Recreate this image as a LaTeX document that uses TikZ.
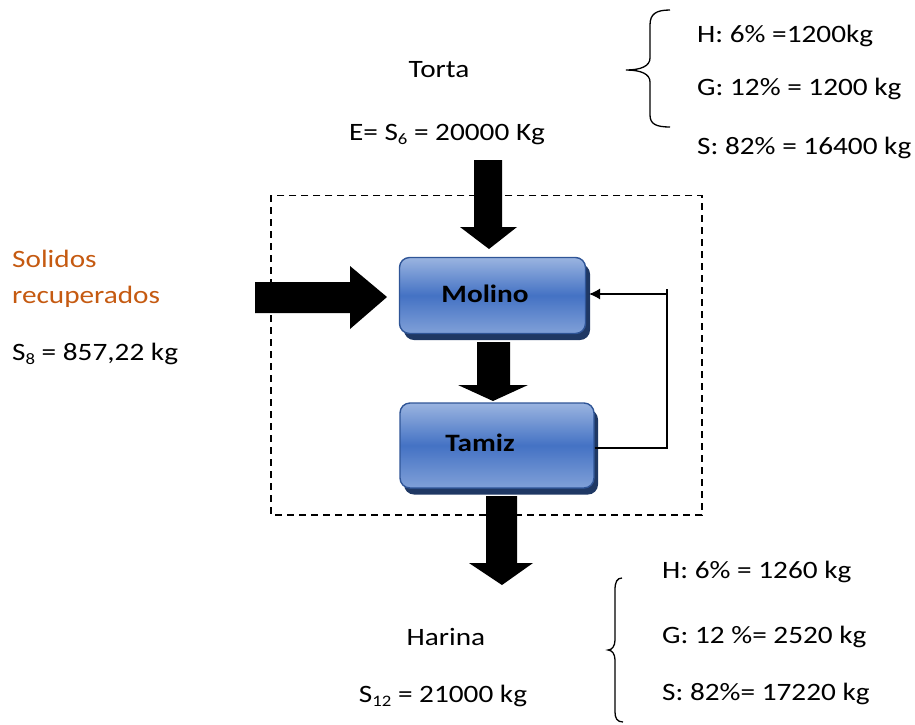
\documentclass[tikz,border=0pt]{standalone}
\usepackage{fontspec}
\setmainfont[FakeStretch=1.17]{Carlito}
\usetikzlibrary{calc,arrows.meta}
\definecolor{orangeT}{HTML}{C55A11}
\definecolor{boxlight}{HTML}{9AB4E0}
\definecolor{boxmid}{HTML}{4472C4}
\definecolor{boxedge}{HTML}{2F5597}
\definecolor{boxshadow}{HTML}{1F3864}
\newcommand{\sbs}[1]{\raisebox{-0.35ex}{\fontsize{16}{16}\selectfont #1}}
\tikzset{
  txt/.style={inner sep=0pt, font=\fontsize{25}{30}\selectfont},
  procbox/.style={rounded corners=10pt, draw=boxedge, line width=1.4pt,
    top color=boxlight, bottom color=boxlight!70!boxmid, middle color=boxmid,
    inner sep=0pt},
  shadowbox/.style={rounded corners=10pt, fill=boxshadow, draw=none, inner sep=0pt},
  blockarrow/.style={fill=black, draw=none},
  flowline/.style={line width=1.4pt, black},
  limit/.style={line width=1.6pt, dash pattern=on 7pt off 5pt}
}
\begin{document}
\begin{tikzpicture}[x=1pt,y=-1pt]
\useasboundingbox (0,0) rectangle (915,724);

% control volume
\node[draw=none, inner sep=0pt, minimum width=431, minimum height=319] (cv) at (486.5,355) {};
\draw[limit] (cv.north west) rectangle (cv.south east);

% shadows
\node[shadowbox, minimum width=186, minimum height=76] (molinoSh) at (497,302) {};
\node[shadowbox, minimum width=194, minimum height=85] (tamizSh) at (501,452) {};
% boxes
\node[procbox, minimum width=186, minimum height=76] (molino) at (492.5,295.5) {};
\node[procbox, minimum width=194, minimum height=85] (tamiz) at (497,445.5) {};
\node[txt, font=\fontsize{25}{30}\selectfont\bfseries] (molinoT) at (485,294) {Molino};
\node[txt, font=\fontsize{25}{30}\selectfont\bfseries] (tamizT) at (480,443) {Tamiz};

% block arrows
% top input
\coordinate (topTip) at (489,249);
\fill[blockarrow] (474,160) -- (502,160) -- (502,227) -- (517,227) -- (topTip) -- (460,227) -- (474,227) -- cycle;
% molino -> tamiz
\coordinate (midTip) at (493,401);
\fill[blockarrow] (477,342) -- (510,342) -- (510,385) -- (528,385) -- (midTip) -- (458,385) -- (477,385) -- cycle;
% bottom output
\coordinate (botTip) at (502,585);
\fill[blockarrow] (486,496) -- (517,496) -- (517,563) -- (533,563) -- (botTip) -- (469,563) -- (486,563) -- cycle;
% left input
\coordinate (leftTip) at (387,297);
\fill[blockarrow] (255,282) -- (350,282) -- (350,266) -- (leftTip) -- (350,329) -- (350,313) -- (255,313) -- cycle;

% recycle line
\coordinate (rTop) at (667,289);
\coordinate (rBot) at (667,449);
\coordinate (rTurn) at (667,294);
\coordinate (rTip) at (589,294);
\draw[flowline] (rTop) -- (rBot);
\draw[flowline] (tamiz.east |- 0,448) -- (667,448);
\draw[flowline, -{Latex[length=11pt,width=11pt]}] (rTurn) -- (rTip);

% texts top
\node[txt, anchor=base] (torta) at (439,77) {Torta};
\node[txt, anchor=base] (e6) at (447,140) {E= S\sbs{6} = 20000 Kg};
\node[txt, anchor=base west] (h1) at (697,42) {H: 6\% =1200kg};
\node[txt, anchor=base west] (g1) at (697,95) {G: 12\% = 1200 kg};
\node[txt, anchor=base west] (s1) at (697,154) {S: 82\% = 16400 kg};
\draw[line width=1.3pt] (670,10) .. controls (656,10) and (650,14) .. (650,25) -- (650,58)
  .. controls (650,66) and (641,70) .. (626,70)
  .. controls (641,70) and (650,74) .. (650,82) -- (650,115)
  .. controls (650,124) and (656,127) .. (670,127);

% left texts
\node[txt, anchor=base west, text=orangeT] (sol1) at (12,267) {Solidos};
\node[txt, anchor=base west, text=orangeT] (sol2) at (12,303) {recuperados};
\node[txt, anchor=base west] (s8) at (12,360) {S\sbs{8} = 857,22 kg};

% bottom texts
\node[txt, anchor=base] (harina) at (446,645) {Harina};
\node[txt, anchor=base] (s12) at (443,702) {S\sbs{12} = 21000 kg};
\node[txt, anchor=base west] (h2) at (662,578) {H: 6\% = 1260 kg};
\node[txt, anchor=base west] (g2) at (662,643) {G: 12 \%= 2520 kg};
\node[txt, anchor=base west] (s2) at (662,700) {S: 82\%= 17220 kg};
\draw[line width=1.3pt] (622,578) .. controls (617,578) and (615,582) .. (615,590) -- (615,640)
  .. controls (615,646) and (612,650) .. (608,650)
  .. controls (612,650) and (615,654) .. (615,660) -- (615,712)
  .. controls (615,718) and (617,722) .. (623,722);
\end{tikzpicture}
\end{document}
